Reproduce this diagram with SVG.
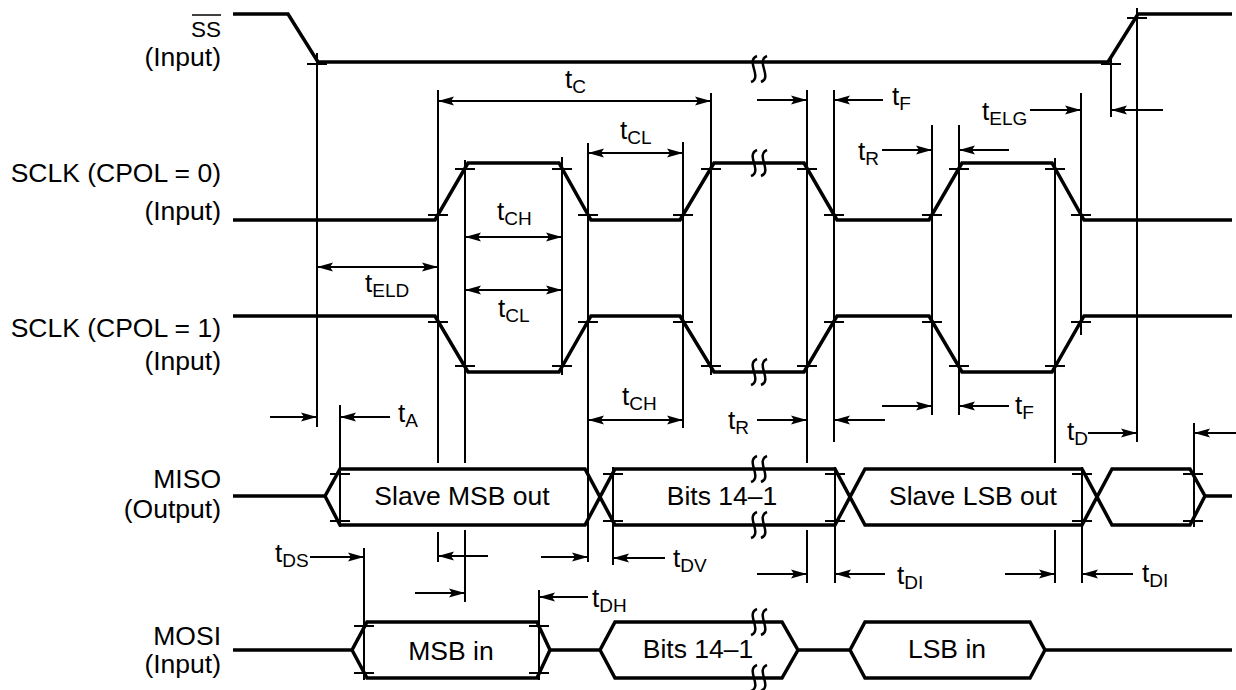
<svg xmlns="http://www.w3.org/2000/svg" width="1236" height="690" viewBox="0 0 1236 690">
<style>
text{font-family:"Liberation Sans",Arial,sans-serif;fill:#000}
.lbl{font-size:26.5px;text-anchor:end}
.box{font-size:26.5px;text-anchor:middle}
.t{font-size:26px}
.s{font-size:19px}
.sig{fill:none;stroke:#000;stroke-width:3.5;stroke-linejoin:miter}
.ext{stroke:#000;stroke-width:2;fill:none}
.dim{stroke:#000;stroke-width:2;fill:none}
.a1{marker-end:url(#ah)}
.a2{marker-start:url(#ah);marker-end:url(#ah)}
.sq{fill:none;stroke:#000;stroke-width:2.5}
</style>
<defs>
<marker id="ah" viewBox="0 0 16 10" refX="16" refY="5" markerWidth="16" markerHeight="10" markerUnits="userSpaceOnUse" orient="auto-start-reverse"><path d="M0,0.5 L16,5 L0,9.5 L3,5 Z" fill="#000"/></marker>
<path id="sqg" d="M3,-13 C-9,-8 9,8 -3,13" class="sq"/>
</defs>
<rect width="1236" height="690" fill="#fff"/>

<g id="ss">
<text x="221" y="37" class="lbl" style="font-size:22.5px">SS</text>
<line x1="192" y1="15" x2="221" y2="15" stroke="#000" stroke-width="1.5"/>
<text x="221" y="66" class="lbl">(Input)</text>
<path class="sig" d="M233,14 H288 L318,62 H1108 L1138,14 H1232"/>
<path class="ext" d="M307,64 H327 M1101,64 H1121 M1127,18 H1147"/>
<use href="#sqg" x="754" y="69"/><use href="#sqg" x="764" y="69"/>
</g>

<g id="sclk0">
<text x="221" y="182" class="lbl">SCLK (CPOL = 0)</text>
<text x="221" y="220" class="lbl">(Input)</text>
<path class="sig" d="M233,220 H435 L468,163 H559 L591,220 H680 L714,163 H804 L837,220 H929 L962,163 H1052 L1084,220 H1232"/>
<path class="ext" d="M428,215 H448 M455,169 H475 M552,169 H572 M578,215 H598 M673,215 H693 M701,169 H721 M797,169 H817 M824,215 H844 M922,215 H942 M949,169 H969 M1045,169 H1065 M1071,215 H1091"/>
<use href="#sqg" x="754" y="163"/><use href="#sqg" x="764" y="163"/>
</g>

<g id="sclk1">
<text x="221" y="337" class="lbl">SCLK (CPOL = 1)</text>
<text x="221" y="370" class="lbl">(Input)</text>
<path class="sig" d="M233,316 H435 L468,372 H559 L591,316 H680 L714,372 H804 L837,316 H929 L962,372 H1052 L1084,316 H1232"/>
<path class="ext" d="M428,322 H448 M455,366 H475 M552,366 H572 M578,322 H598 M673,322 H693 M701,366 H721 M797,366 H817 M824,322 H844 M922,322 H942 M949,366 H969 M1045,366 H1065 M1071,322 H1091"/>
<use href="#sqg" x="754" y="372"/><use href="#sqg" x="764" y="372"/>
</g>

<g id="miso">
<text x="221" y="488" class="lbl">MISO</text>
<text x="221" y="518" class="lbl">(Output)</text>
<path class="sig" d="M233,496 H325 L340,469 H585 L615,525 H835 L865,469 H1082 L1112,525 H1190 L1205,496 H1232"/>
<path class="sig" d="M325,496 L340,525 H585 L615,469 H835 L865,525 H1082 L1112,469 H1190 L1205,496"/>
<path class="ext" d="M330,474 H350 M330,521 H350 M603,474 H623 M603,521 H623 M825,474 H845 M825,521 H845 M1072,474 H1092 M1072,521 H1092 M1183,474 H1203 M1183,521 H1203"/>
<use href="#sqg" x="754" y="469"/><use href="#sqg" x="764" y="469"/>
<use href="#sqg" x="754" y="525"/><use href="#sqg" x="764" y="525"/>
<text x="462" y="505" class="box">Slave MSB out</text>
<text x="722" y="505" class="box">Bits 14–1</text>
<text x="973" y="505" class="box">Slave LSB out</text>
</g>

<g id="mosi">
<text x="221" y="645" class="lbl">MOSI</text>
<text x="221" y="673" class="lbl">(Input)</text>
<path class="sig" d="M233,650 H352 L367,622 H537 L550,650 H600 L615,622 H782 L798,650 H850 L865,622 H1030 L1045,650 H1232"/>
<path class="sig" d="M352,650 L367,678 H537 L550,650 M600,650 L615,678 H782 L798,650 M850,650 L865,678 H1030 L1045,650"/>
<path class="ext" d="M354,626 H374 M354,673 H374 M529,626 H549 M529,673 H549"/>
<use href="#sqg" x="754" y="622"/><use href="#sqg" x="764" y="622"/>
<use href="#sqg" x="754" y="678"/><use href="#sqg" x="764" y="678"/>
<text x="451" y="660" class="box">MSB in</text>
<text x="698" y="658" class="box">Bits 14–1</text>
<text x="947" y="658" class="box">LSB in</text>
</g>

<g id="connectors">
<path class="ext" d="M317,53 V427 M438,90 V463 M438,532 V562 M465,160 V463 M465,530 V602 M562,157 V375 M588,143 V562 M683,142 V428 M711,93 V375 M807,90 V463 M807,530 V583 M834,90 V442 M932,125 V415 M959,125 V415 M1055,158 V463 M1055,530 V583 M1081,93 V335 M340,405 V527 M613,467 V565 M835,467 V583 M1082,467 V583 M1111,57 V117 M1137,8 V442 M1194,423 V527 M364,548 V680 M539,590 V680"/>
<line class="dim a2" x1="438" y1="101" x2="711" y2="101"/>
<line class="dim a1" x1="757" y1="100" x2="807" y2="100"/>
<line class="dim a1" x1="883" y1="100" x2="834" y2="100"/>
<line class="dim a2" x1="588" y1="153" x2="683" y2="153"/>
<line class="dim a1" x1="882" y1="150" x2="932" y2="150"/>
<line class="dim a1" x1="1009" y1="150" x2="959" y2="150"/>
<line class="dim a1" x1="1030" y1="110" x2="1081" y2="110"/>
<line class="dim a1" x1="1163" y1="110" x2="1111" y2="110"/>
<line class="dim a2" x1="465" y1="237" x2="562" y2="237"/>
<line class="dim a2" x1="465" y1="290" x2="562" y2="290"/>
<line class="dim a2" x1="317" y1="267" x2="438" y2="267"/>
<line class="dim a1" x1="270" y1="417" x2="317" y2="417"/>
<line class="dim a1" x1="390" y1="417" x2="340" y2="417"/>
<line class="dim a2" x1="588" y1="420" x2="683" y2="420"/>
<line class="dim a1" x1="757" y1="420" x2="807" y2="420"/>
<line class="dim a1" x1="885" y1="420" x2="834" y2="420"/>
<line class="dim a1" x1="882" y1="406" x2="932" y2="406"/>
<line class="dim a1" x1="1009" y1="406" x2="959" y2="406"/>
<line class="dim a1" x1="1088" y1="433" x2="1137" y2="433"/>
<line class="dim a1" x1="1236" y1="433" x2="1194" y2="433"/>
<line class="dim a1" x1="310" y1="557" x2="364" y2="557"/>
<line class="dim a1" x1="488" y1="556" x2="438" y2="556"/>
<line class="dim a1" x1="415" y1="593" x2="465" y2="593"/>
<line class="dim a1" x1="541" y1="557" x2="588" y2="557"/>
<line class="dim a1" x1="588" y1="597" x2="539" y2="597"/>
<line class="dim a1" x1="665" y1="558" x2="613" y2="558"/>
<line class="dim a1" x1="757" y1="574" x2="807" y2="574"/>
<line class="dim a1" x1="885" y1="574" x2="835" y2="574"/>
<line class="dim a1" x1="1005" y1="574" x2="1055" y2="574"/>
<line class="dim a1" x1="1133" y1="574" x2="1082" y2="574"/>
</g>

<g id="timing-labels">
<text x="565" y="88" class="t">t<tspan class="s" dy="5">C</tspan></text>
<text x="892" y="105" class="t">t<tspan class="s" dy="5">F</tspan></text>
<text x="620" y="139" class="t">t<tspan class="s" dy="5">CL</tspan></text>
<text x="858" y="160" class="t">t<tspan class="s" dy="5">R</tspan></text>
<text x="982" y="120" class="t">t<tspan class="s" dy="5">ELG</tspan></text>
<text x="497" y="220" class="t">t<tspan class="s" dy="5">CH</tspan></text>
<text x="365" y="292" class="t">t<tspan class="s" dy="5">ELD</tspan></text>
<text x="498" y="317" class="t">t<tspan class="s" dy="5">CL</tspan></text>
<text x="398" y="422" class="t">t<tspan class="s" dy="5">A</tspan></text>
<text x="622" y="405" class="t">t<tspan class="s" dy="5">CH</tspan></text>
<text x="728" y="429" class="t">t<tspan class="s" dy="5">R</tspan></text>
<text x="1015" y="414" class="t">t<tspan class="s" dy="5">F</tspan></text>
<text x="1067" y="440" class="t">t<tspan class="s" dy="5">D</tspan></text>
<text x="275" y="562" class="t">t<tspan class="s" dy="5">DS</tspan></text>
<text x="673" y="567" class="t">t<tspan class="s" dy="5">DV</tspan></text>
<text x="897" y="584" class="t">t<tspan class="s" dy="5">DI</tspan></text>
<text x="1142" y="582" class="t">t<tspan class="s" dy="5">DI</tspan></text>
<text x="592" y="607" class="t">t<tspan class="s" dy="5">DH</tspan></text>
</g>
</svg>
